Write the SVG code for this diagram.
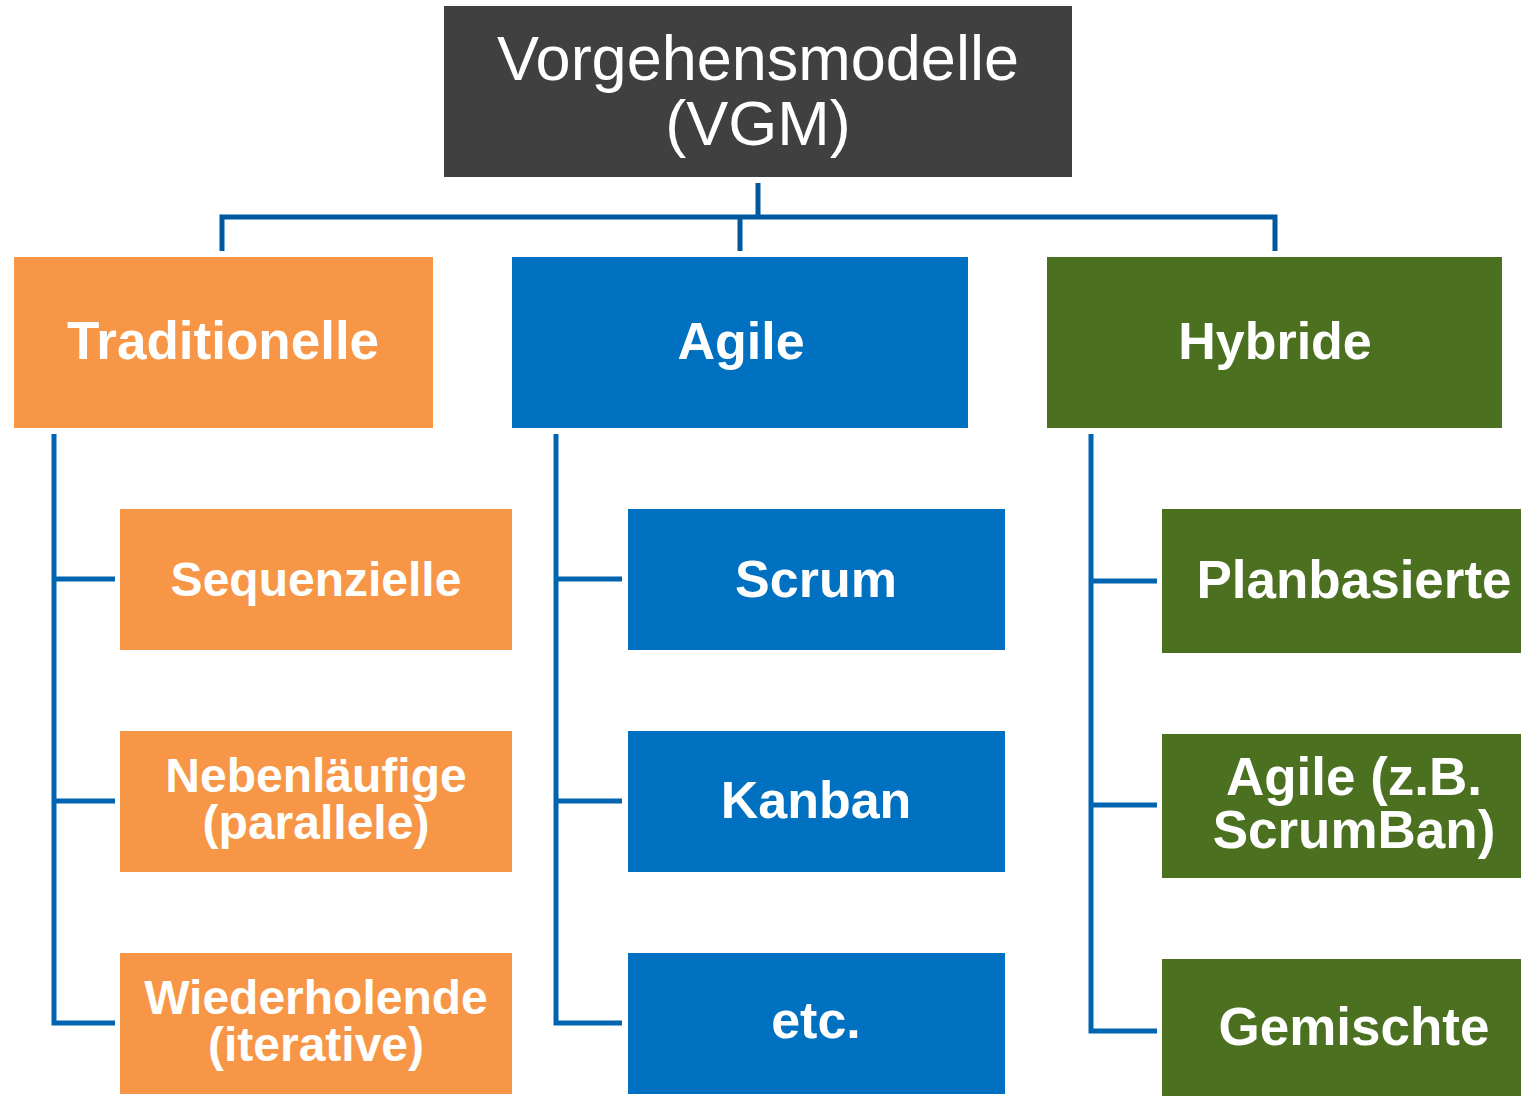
<svg xmlns="http://www.w3.org/2000/svg" width="1521" height="1096" viewBox="0 0 1521 1096">
<style>
.t{font-family:"Liberation Sans",Arial,sans-serif;fill:#fff;text-anchor:middle}
.b{font-weight:bold}
.or{fill:#f79646}
.bl{fill:#0070c0}
.gr{fill:#4a7020}
.c{fill:none;stroke-width:5;stroke-linejoin:miter;stroke-linecap:butt}
.c1{stroke:#00589f}
.c2{stroke:#0064b0}
</style>
<rect width="1521" height="1096" fill="#fff"/>
<g id="connectors">
<path class="c c1" d="M758 183V217M222 251V217H1275V251M740 217V251"/>
<path class="c c2" d="M54 434V1023H115M54 579H115M54 801H115"/>
<path class="c c2" d="M556 434V1023H622M556 579H622M556 801H622"/>
<path class="c c2" d="M1091 434V1031H1157M1091 581H1157M1091 805H1157"/>
</g>
<g id="root">
<rect x="444" y="6" width="628" height="171" fill="#404040"/>
<text class="t" x="758" y="80" font-size="63">Vorgehensmodelle</text>
<text class="t" x="758" y="145" font-size="63">(VGM)</text>
</g>
<g id="traditionelle">
<rect class="or" x="14" y="257" width="419" height="171"/>
<text class="t b" x="223" y="359" font-size="53">Traditionelle</text>
</g>
<g id="agile">
<rect class="bl" x="512" y="257" width="456" height="171"/>
<text class="t b" x="741" y="359" font-size="52">Agile</text>
</g>
<g id="hybride">
<rect class="gr" x="1047" y="257" width="455" height="171"/>
<text class="t b" x="1275" y="359" font-size="52">Hybride</text>
</g>
<g id="sequenzielle">
<rect class="or" x="120" y="509" width="392" height="141"/>
<text class="t b" x="316" y="596" font-size="48">Sequenzielle</text>
</g>
<g id="nebenlaeufige">
<rect class="or" x="120" y="731" width="392" height="141"/>
<text class="t b" x="316" y="792" font-size="48">Nebenläufige</text>
<text class="t b" x="316" y="839" font-size="48">(parallele)</text>
</g>
<g id="wiederholende">
<rect class="or" x="120" y="953" width="392" height="141"/>
<text class="t b" x="316" y="1014" font-size="48">Wiederholende</text>
<text class="t b" x="316" y="1061" font-size="48">(iterative)</text>
</g>
<g id="scrum">
<rect class="bl" x="628" y="509" width="377" height="141"/>
<text class="t b" x="816" y="597" font-size="52">Scrum</text>
</g>
<g id="kanban">
<rect class="bl" x="628" y="731" width="377" height="141"/>
<text class="t b" x="816" y="818" font-size="52">Kanban</text>
</g>
<g id="etc">
<rect class="bl" x="628" y="953" width="377" height="141"/>
<text class="t b" x="816" y="1038" font-size="52">etc.</text>
</g>
<g id="planbasierte">
<rect class="gr" x="1162" y="509" width="384" height="144"/>
<text class="t b" x="1354" y="598" font-size="53">Planbasierte</text>
</g>
<g id="agile-scrumban">
<rect class="gr" x="1162" y="734" width="384" height="144"/>
<text class="t b" x="1354" y="795" font-size="53">Agile (z.B.</text>
<text class="t b" x="1354" y="848" font-size="53">ScrumBan)</text>
</g>
<g id="gemischte">
<rect class="gr" x="1162" y="959" width="384" height="144"/>
<text class="t b" x="1354" y="1045" font-size="53">Gemischte</text>
</g>
</svg>
